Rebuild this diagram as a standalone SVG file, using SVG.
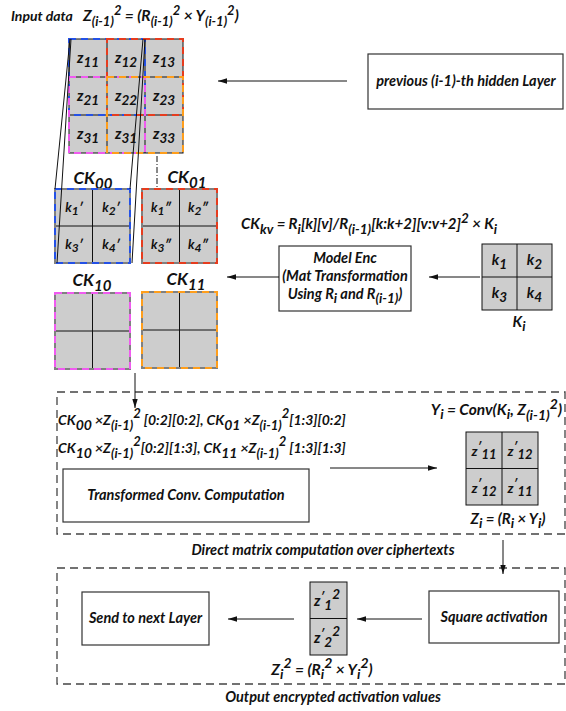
<svg xmlns="http://www.w3.org/2000/svg" width="566" height="711" viewBox="0 0 566 711">
<style>
.t{font-family:Lato,"Liberation Sans",sans-serif;font-style:italic;font-weight:bold;fill:#111}
.cell{fill:#cdcdcd;stroke:#111;stroke-width:1}
.ln{stroke:#111;stroke-width:1;fill:none}
.box{fill:#fff;stroke:#333;stroke-width:1.2}
.dbox{fill:none;stroke:#444;stroke-width:1.3;stroke-dasharray:8 5}
.gb{fill:none;stroke:#808080;stroke-width:2}
.blue{fill:none;stroke:#2451e6;stroke-width:2;stroke-dasharray:7 5}
.red{fill:none;stroke:#e63c1e;stroke-width:2;stroke-dasharray:7 5}
.mag{fill:none;stroke:#f05af0;stroke-width:2;stroke-dasharray:7 5}
.org{fill:none;stroke:#ff9e1b;stroke-width:2;stroke-dasharray:7 5}
.arr{stroke:#111;stroke-width:1;fill:none;marker-end:url(#ah)}
</style>
<defs>
<marker id="ah" viewBox="0 0 10 6" refX="10" refY="3" markerWidth="9" markerHeight="5.4" orient="auto" markerUnits="userSpaceOnUse"><path d="M0,0 L10,3 L0,6 z" fill="#111"/></marker>
</defs>

<g id="title">
<text x="11" y="21" class="t" font-size="14">Input data <tspan x="83" font-size="15.5">Z<tspan font-size="13" baseline-shift="-5">(i-1)</tspan><tspan font-size="13" baseline-shift="6">2</tspan> =  (R<tspan font-size="13" baseline-shift="-5">(i-1)</tspan><tspan font-size="13" baseline-shift="6">2</tspan> × Y<tspan font-size="13" baseline-shift="-5">(i-1)</tspan><tspan font-size="13" baseline-shift="6">2</tspan>)</tspan></text>
</g>

<g id="input-grid">
<rect x="69" y="39" width="114" height="114" class="cell"/>
<path class="ln" d="M107,39V153M145,39V153M69,77H183M69,115H183"/>
<rect x="69" y="39" width="76" height="76" class="blue"/>
<rect x="107" y="39" width="76" height="76" class="red"/>
<rect x="69" y="77" width="76" height="76" class="mag"/>
<rect x="107" y="77" width="76" height="76" class="org"/>
<g class="t" font-size="15" text-anchor="middle">
<text x="88" y="63">z<tspan font-size="13.5" baseline-shift="-4">11</tspan></text>
<text x="126" y="63">z<tspan font-size="13.5" baseline-shift="-4">12</tspan></text>
<text x="164" y="63">z<tspan font-size="13.5" baseline-shift="-4">13</tspan></text>
<text x="88" y="101">z<tspan font-size="13.5" baseline-shift="-4">21</tspan></text>
<text x="126" y="101">z<tspan font-size="13.5" baseline-shift="-4">22</tspan></text>
<text x="164" y="101">z<tspan font-size="13.5" baseline-shift="-4">23</tspan></text>
<text x="88" y="139">z<tspan font-size="13.5" baseline-shift="-4">31</tspan></text>
<text x="126" y="139">z<tspan font-size="13.5" baseline-shift="-4">31</tspan></text>
<text x="164" y="139">z<tspan font-size="13.5" baseline-shift="-4">33</tspan></text>
</g>
</g>

<g id="prev-layer">
<rect x="368" y="54" width="195" height="55" class="box"/>
<text x="466" y="86" class="t" font-size="14.5" text-anchor="middle">previous (i-1)-th hidden Layer</text>
</g>

<g id="ck00">
<text x="93" y="184" class="t" font-size="17" text-anchor="middle">CK<tspan font-size="15" baseline-shift="-5">00</tspan></text>
<rect x="55" y="189" width="75" height="74" class="cell"/>
<path class="ln" d="M92.5,189V263M55,226H130"/>
<rect x="55" y="189" width="75" height="74" class="gb"/>
<rect x="55" y="189" width="75" height="74" class="blue"/>
<g class="t" font-size="13" text-anchor="middle">
<text x="74" y="212">k<tspan font-size="12" baseline-shift="-3">1</tspan>′</text>
<text x="111" y="212">k<tspan font-size="12" baseline-shift="-3">2</tspan>′</text>
<text x="74" y="249">k<tspan font-size="12" baseline-shift="-3">3</tspan>′</text>
<text x="111" y="249">k<tspan font-size="12" baseline-shift="-3">4</tspan>′</text>
</g>
</g>

<g id="ck01">
<text x="187" y="183" class="t" font-size="17" text-anchor="middle">CK<tspan font-size="15" baseline-shift="-5">01</tspan></text>
<rect x="142" y="189" width="75" height="74" class="cell"/>
<path class="ln" d="M179.5,189V263M142,226H217"/>
<rect x="142" y="189" width="75" height="74" class="gb"/>
<rect x="142" y="189" width="75" height="74" class="red"/>
<g class="t" font-size="13" text-anchor="middle">
<text x="161" y="212">k<tspan font-size="12" baseline-shift="-3">1</tspan>″</text>
<text x="198" y="212">k<tspan font-size="12" baseline-shift="-3">2</tspan>″</text>
<text x="161" y="249">k<tspan font-size="12" baseline-shift="-3">3</tspan>″</text>
<text x="198" y="249">k<tspan font-size="12" baseline-shift="-3">4</tspan>″</text>
</g>
</g>

<g id="ck10">
<text x="92" y="286" class="t" font-size="17" text-anchor="middle">CK<tspan font-size="15" baseline-shift="-5">10</tspan></text>
<rect x="55" y="293" width="75" height="76" class="cell"/>
<path class="ln" d="M92.5,293V369M55,331H130"/>
<rect x="55" y="293" width="75" height="76" class="gb"/>
<rect x="55" y="293" width="75" height="76" class="mag"/>
</g>

<g id="ck11">
<text x="186" y="285" class="t" font-size="17" text-anchor="middle">CK<tspan font-size="15" baseline-shift="-5">11</tspan></text>
<rect x="142" y="292" width="75" height="76" class="cell"/>
<path class="ln" d="M179.5,292V368M142,330H217"/>
<rect x="142" y="292" width="75" height="76" class="gb"/>
<rect x="142" y="292" width="75" height="76" class="org"/>
</g>

<g id="ckkv-formula">
<text x="241" y="229" class="t" font-size="15">CK<tspan font-size="13.5" baseline-shift="-5">kv</tspan> = R<tspan font-size="13.5" baseline-shift="-5">i</tspan>[k][v]/R<tspan font-size="13.5" baseline-shift="-5">(i-1)</tspan>[k:k+2][v:v+2]<tspan font-size="13.5" baseline-shift="6">2</tspan> × K<tspan font-size="13.5" baseline-shift="-5">i</tspan></text>
</g>

<g id="model-enc">
<rect x="279" y="246" width="132" height="65" class="box"/>
<g class="t" font-size="14.5" text-anchor="middle">
<text x="345" y="263">Model Enc</text>
<text x="345" y="281">(Mat Transformation</text>
<text x="345" y="299">Using R<tspan font-size="13.5" baseline-shift="-4">i</tspan> and R<tspan font-size="13.5" baseline-shift="-4">(i-1)</tspan>)</text>
</g>
</g>

<g id="ki">
<rect x="482" y="244" width="70" height="66" class="cell"/>
<path class="ln" d="M517,244V310M482,277H552"/>
<g class="t" font-size="15" text-anchor="middle">
<text x="499.5" y="265">k<tspan font-size="13.5" baseline-shift="-4">1</tspan></text>
<text x="534.5" y="265">k<tspan font-size="13.5" baseline-shift="-4">2</tspan></text>
<text x="499.5" y="298">k<tspan font-size="13.5" baseline-shift="-4">3</tspan></text>
<text x="534.5" y="298">k<tspan font-size="13.5" baseline-shift="-4">4</tspan></text>
<text x="519" y="327">K<tspan font-size="13.5" baseline-shift="-4">i</tspan></text>
</g>
</g>

<g id="computation">
<rect x="57" y="392" width="508" height="142" class="dbox"/>
<g class="t" font-size="14">
<text x="58" y="425">CK<tspan font-size="14" baseline-shift="-5">00</tspan> ×Z<tspan font-size="13" baseline-shift="-5">(i-1)</tspan><tspan font-size="13" baseline-shift="7">2</tspan> [0:2][0:2], CK<tspan font-size="14" baseline-shift="-5">01</tspan> ×Z<tspan font-size="13" baseline-shift="-5">(i-1)</tspan><tspan font-size="13" baseline-shift="7">2</tspan>[1:3][0:2]</text>
<text x="58" y="453">CK<tspan font-size="14" baseline-shift="-5">10</tspan> ×Z<tspan font-size="13" baseline-shift="-5">(i-1)</tspan><tspan font-size="13" baseline-shift="7">2</tspan>[0:2][1:3], CK<tspan font-size="14" baseline-shift="-5">11</tspan> ×Z<tspan font-size="13" baseline-shift="-5">(i-1)</tspan><tspan font-size="13" baseline-shift="7">2</tspan> [1:3][1:3]</text>
</g>
<text x="323" y="555" class="t" font-size="14.5" text-anchor="middle">Direct matrix computation over ciphertexts</text>
</g>

<g id="conv-box">
<rect x="63" y="469" width="246" height="53" class="box"/>
<text x="186" y="500" class="t" font-size="14.5" text-anchor="middle">Transformed Conv. Computation</text>
</g>

<g id="yi">
<text x="562" y="415" class="t" font-size="15.5" text-anchor="end">Y<tspan font-size="14" baseline-shift="-4">i</tspan> = Conv(K<tspan font-size="14" baseline-shift="-4">i</tspan>, Z<tspan font-size="14" baseline-shift="-5">(i-1)</tspan><tspan font-size="14" baseline-shift="6">2</tspan>)</text>
<rect x="466" y="432" width="72" height="73" class="cell"/>
<path class="ln" d="M502,432V505M466,468.5H538"/>
<g class="t" font-size="14" text-anchor="middle">
<text x="484" y="456">z<tspan baseline-shift="5" font-size="12">′</tspan><tspan font-size="13" baseline-shift="-3">11</tspan></text>
<text x="520" y="456">z<tspan baseline-shift="5" font-size="12">′</tspan><tspan font-size="13" baseline-shift="-3">12</tspan></text>
<text x="484" y="493">z<tspan baseline-shift="5" font-size="12">′</tspan><tspan font-size="13" baseline-shift="-3">12</tspan></text>
<text x="520" y="493">z<tspan baseline-shift="5" font-size="12">′</tspan><tspan font-size="13" baseline-shift="-3">11</tspan></text>
</g>
<text x="508" y="524" class="t" font-size="15" text-anchor="middle">Z<tspan font-size="14" baseline-shift="-4">i</tspan> =  (R<tspan font-size="14" baseline-shift="-4">i</tspan> × Y<tspan font-size="14" baseline-shift="-4">i</tspan>)</text>
</g>

<g id="activation">
<rect x="57" y="568" width="508" height="116" class="dbox"/>
<text x="333" y="702" class="t" font-size="14.5" text-anchor="middle">Output encrypted activation values</text>
</g>

<g id="send-box">
<rect x="82" y="592" width="127" height="53" class="box"/>
<text x="145.5" y="623" class="t" font-size="14.5" text-anchor="middle">Send to next Layer</text>
</g>

<g id="zsq">
<rect x="310" y="582" width="37" height="73" class="cell"/>
<path class="ln" d="M310,618.5H347"/>
<g class="t" font-size="15" text-anchor="middle">
<text x="327" y="606">z<tspan baseline-shift="5" font-size="12">′</tspan><tspan font-size="13.5" baseline-shift="-4">1</tspan><tspan font-size="13.5" baseline-shift="7">2</tspan></text>
<text x="327" y="643">z<tspan baseline-shift="5" font-size="12">′</tspan><tspan font-size="13.5" baseline-shift="-4">2</tspan><tspan font-size="13.5" baseline-shift="7">2</tspan></text>
</g>
<text x="322" y="675" class="t" font-size="15.5" text-anchor="middle">Z<tspan font-size="14" baseline-shift="-4">i</tspan><tspan font-size="14" baseline-shift="7">2</tspan> =  (R<tspan font-size="14" baseline-shift="-4">i</tspan><tspan font-size="14" baseline-shift="7">2</tspan> × Y<tspan font-size="14" baseline-shift="-4">i</tspan><tspan font-size="14" baseline-shift="7">2</tspan>)</text>
</g>

<g id="square-box">
<rect x="429" y="591" width="130" height="52" class="box"/>
<text x="494" y="622" class="t" font-size="14.5" text-anchor="middle">Square activation</text>
</g>

<g id="connectors">
<path class="ln" d="M70,39L55,189M71,39L57,263M143,39L130,189M145,39L132,263"/>
<path d="M157,156V187" stroke="#111" stroke-width="1" stroke-dasharray="6 2 1 2" fill="none"/>
<path class="arr" d="M347,81H218"/>
<path class="arr" d="M279,277H227"/>
<path class="arr" d="M480,277H429"/>
<path class="arr" d="M135,373V408"/>
<path class="arr" d="M330,468H437"/>
<path class="arr" d="M503,540V574"/>
<path class="arr" d="M422,619H357"/>
<path class="arr" d="M294,619H228"/>
</g>
</svg>
